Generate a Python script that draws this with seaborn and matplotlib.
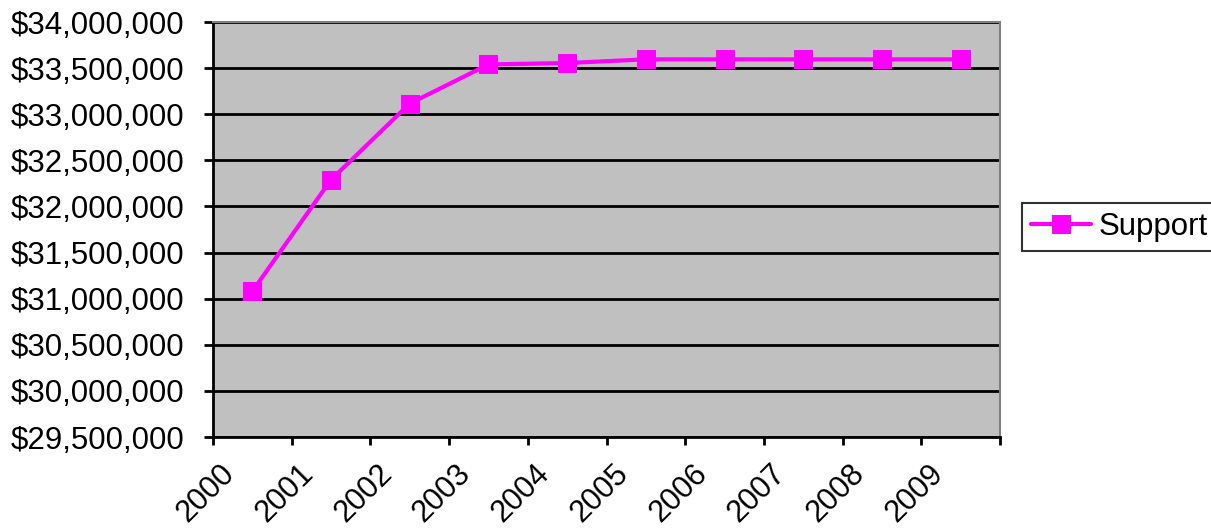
import matplotlib
matplotlib.use("Agg")
import matplotlib.pyplot as plt
import matplotlib.transforms as mtransforms
import seaborn as sns
import pandas as pd
from matplotlib.ticker import FuncFormatter, FixedLocator, MultipleLocator

years = ["2000", "2001", "2002", "2003", "2004", "2005", "2006", "2007", "2008", "2009"]
support = [31080000, 32290000, 33115000, 33540000, 33555000, 33595000, 33595000, 33595000, 33595000, 33595000]

sns.set_style("white")
plt.rcParams['font.family'] = ['Liberation Sans', 'DejaVu Sans']
plt.rcParams['text.color'] = 'black'
plt.rcParams['xtick.color'] = 'black'
plt.rcParams['ytick.color'] = 'black'

df = pd.DataFrame({"Year": years, "Support": support})
df["pos"] = range(len(years))

fig = plt.figure(figsize=(12.11, 5.28), dpi=100)
ax = fig.add_axes([213/1211, 1 - 437/528, (1000-213)/1211, (437-22)/528])
ax.set_facecolor("#C0C0C0")

sns.lineplot(data=df, x="pos", y="Support", ax=ax, color="#FF00FF", linewidth=3,
             marker="s", markersize=13.5, markeredgecolor="#FF00FF", label="Support", zorder=3)

ax.set_xlim(-0.5, len(years) - 0.5)
ax.set_ylim(29500000, 34000000)
ax.yaxis.set_major_locator(MultipleLocator(500000))
ax.yaxis.set_major_formatter(FuncFormatter(lambda v, p: "${:,.0f}".format(v)))
ax.grid(axis="y", color="black", linewidth=2, zorder=1)
ax.set_axisbelow(True)

ax.set_xticks(df["pos"])
ax.set_xticklabels(years, rotation=45, ha="right", va="center", rotation_mode="anchor")
ax.xaxis.set_minor_locator(FixedLocator([i - 0.5 for i in range(len(years) + 1)]))
ax.tick_params(axis="x", which="major", length=0, labelsize=22, pad=23)
ax.tick_params(axis="x", which="minor", length=6, width=2, color="black", direction="out", bottom=True)
ax.tick_params(axis="y", length=6.5, width=2, color="black", direction="out", left=True, labelsize=22.5, pad=14)
offset = mtransforms.ScaledTranslation(-22/100, 0, fig.dpi_scale_trans)
for lbl in ax.get_xticklabels():
    lbl.set_transform(lbl.get_transform() + offset)
ax.set_xlabel("")
ax.set_ylabel("")

for s in ["left", "bottom"]:
    ax.spines[s].set_color("black")
    ax.spines[s].set_linewidth(2)
for s in ["top", "right"]:
    ax.spines[s].set_color("#808080")
    ax.spines[s].set_linewidth(1.5)

leg = ax.legend(loc="center left", bbox_to_anchor=(1022/1211, 1 - 227/528), bbox_transform=fig.transFigure,
                frameon=True, fancybox=False, fontsize=22.5, handlelength=1.9, handletextpad=0.26,
                borderpad=0.3, borderaxespad=0)
leg.get_frame().set_edgecolor("black")
leg.get_frame().set_linewidth(1.5)

fig.savefig("out.png", dpi=100)
